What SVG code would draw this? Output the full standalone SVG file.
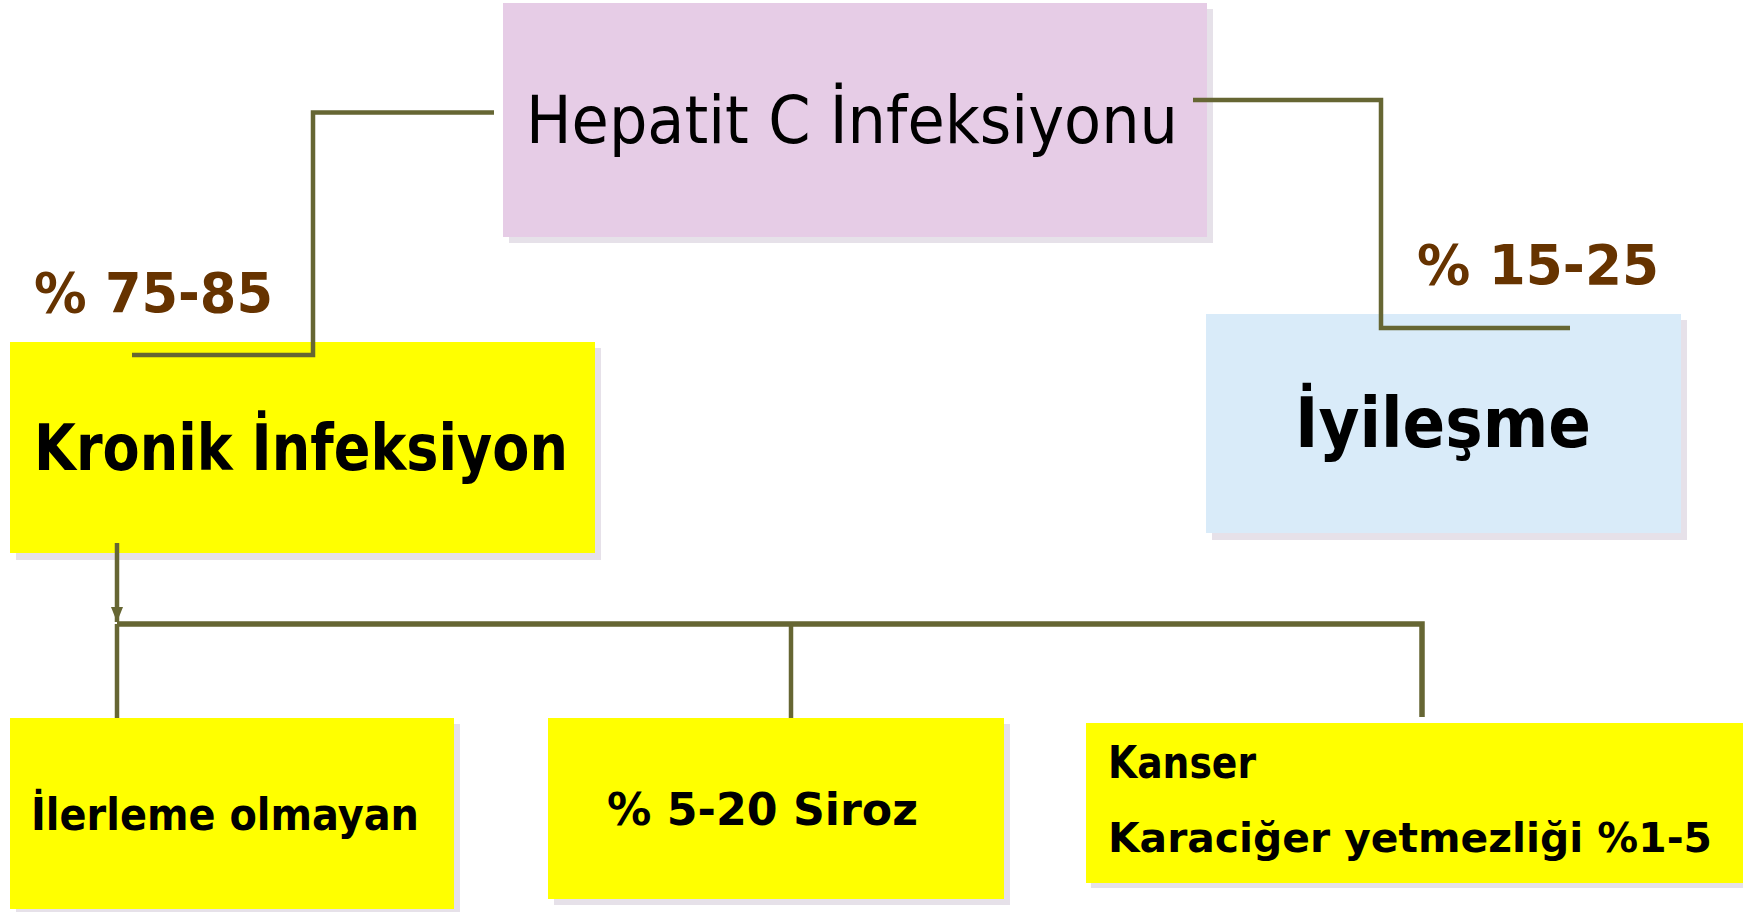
<svg xmlns="http://www.w3.org/2000/svg" width="1743" height="912" viewBox="0 0 1743 912">
  <style>
    .shadow { fill: #e6e1e9; }
    .pink { fill: #e6cce6; }
    .blue { fill: #d9ebf9; }
    .yellow { fill: #ffff00; }
    .txt { font-family: "Comic Sans MS", "DejaVu Sans", sans-serif; fill: #000; }
    .b { font-weight: bold; }
    .pct { font-family: "Comic Sans MS", "DejaVu Sans", sans-serif; font-weight: bold; fill: #663300; }
    .wire { fill: none; stroke: #666633; stroke-width: 4.5; }
    .bus { fill: none; stroke: #666633; stroke-width: 5.5; }
  </style>
  <defs>
    <marker id="arrow" viewBox="0 0 15 12" refX="15" refY="6" markerWidth="15" markerHeight="12" markerUnits="userSpaceOnUse" orient="auto">
      <path d="M0,0 L15,6 L0,12 Z" fill="#666633"/>
    </marker>
  </defs>

  <rect width="1743" height="912" fill="#ffffff"/>

  <g id="node-hepatit">
    <rect class="shadow" x="509" y="9" width="704" height="234"/>
    <rect class="pink" x="503" y="3" width="704" height="234"/>
    <text class="txt" x="526" y="143" font-size="66" textLength="652" lengthAdjust="spacingAndGlyphs">Hepatit C İnfeksiyonu</text>
  </g>

  <g id="node-kronik">
    <rect class="shadow" x="16" y="348" width="585" height="212"/>
    <rect class="yellow" x="10" y="342" width="585" height="211"/>
    <text class="txt b" x="34" y="470" font-size="64" textLength="534" lengthAdjust="spacingAndGlyphs">Kronik İnfeksiyon</text>
  </g>

  <g id="node-iyilesme">
    <rect class="shadow" x="1212" y="320" width="475" height="220"/>
    <rect class="blue" x="1206" y="314" width="475" height="219"/>
    <text class="txt b" x="1295" y="447" font-size="70" textLength="296" lengthAdjust="spacingAndGlyphs">İyileşme</text>
  </g>

  <g id="node-ilerleme">
    <rect class="shadow" x="16" y="724" width="444" height="188"/>
    <rect class="yellow" x="10" y="718" width="444" height="191"/>
    <text class="txt b" x="31" y="830" font-size="45" textLength="388" lengthAdjust="spacingAndGlyphs">İlerleme olmayan</text>
  </g>

  <g id="node-siroz">
    <rect class="shadow" x="554" y="724" width="456" height="181"/>
    <rect class="yellow" x="548" y="718" width="456" height="181"/>
    <text class="txt b" x="607" y="825" font-size="44" textLength="311" lengthAdjust="spacingAndGlyphs">% 5-20 Siroz</text>
  </g>

  <g id="node-kanser">
    <rect class="shadow" x="1091" y="728" width="652" height="160"/>
    <rect class="yellow" x="1086" y="723" width="657" height="160"/>
    <text class="txt b" x="1108" y="778" font-size="44" textLength="148" lengthAdjust="spacingAndGlyphs">Kanser</text>
    <text class="txt b" x="1108" y="852" font-size="41" textLength="604" lengthAdjust="spacingAndGlyphs">Karaciğer yetmezliği %1-5</text>
  </g>

  <g id="labels">
    <text class="pct" x="34" y="312" font-size="56" textLength="239" lengthAdjust="spacingAndGlyphs">% 75-85</text>
    <text class="pct" x="1417" y="284" font-size="56" textLength="242" lengthAdjust="spacingAndGlyphs">% 15-25</text>
  </g>

  <g id="connectors">
    <!-- Hepatit C to chronic infection -->
    <polyline class="wire" points="494,112.5 313,112.5 313,355 132,355"/>
    <!-- Hepatit C to recovery -->
    <polyline class="wire" points="1193,100 1381,100 1381,328 1570,328"/>
    <!-- chronic infection down to the outcome bus -->
    <line class="wire" x1="117" y1="543" x2="117" y2="622" marker-end="url(#arrow)"/>
    <!-- outcome bus and drops -->
    <polyline class="bus" points="117,624 1422,624 1422,717"/>
    <line class="wire" x1="117" y1="624" x2="117" y2="718"/>
    <line class="wire" x1="791" y1="624" x2="791" y2="718"/>
  </g>
</svg>
